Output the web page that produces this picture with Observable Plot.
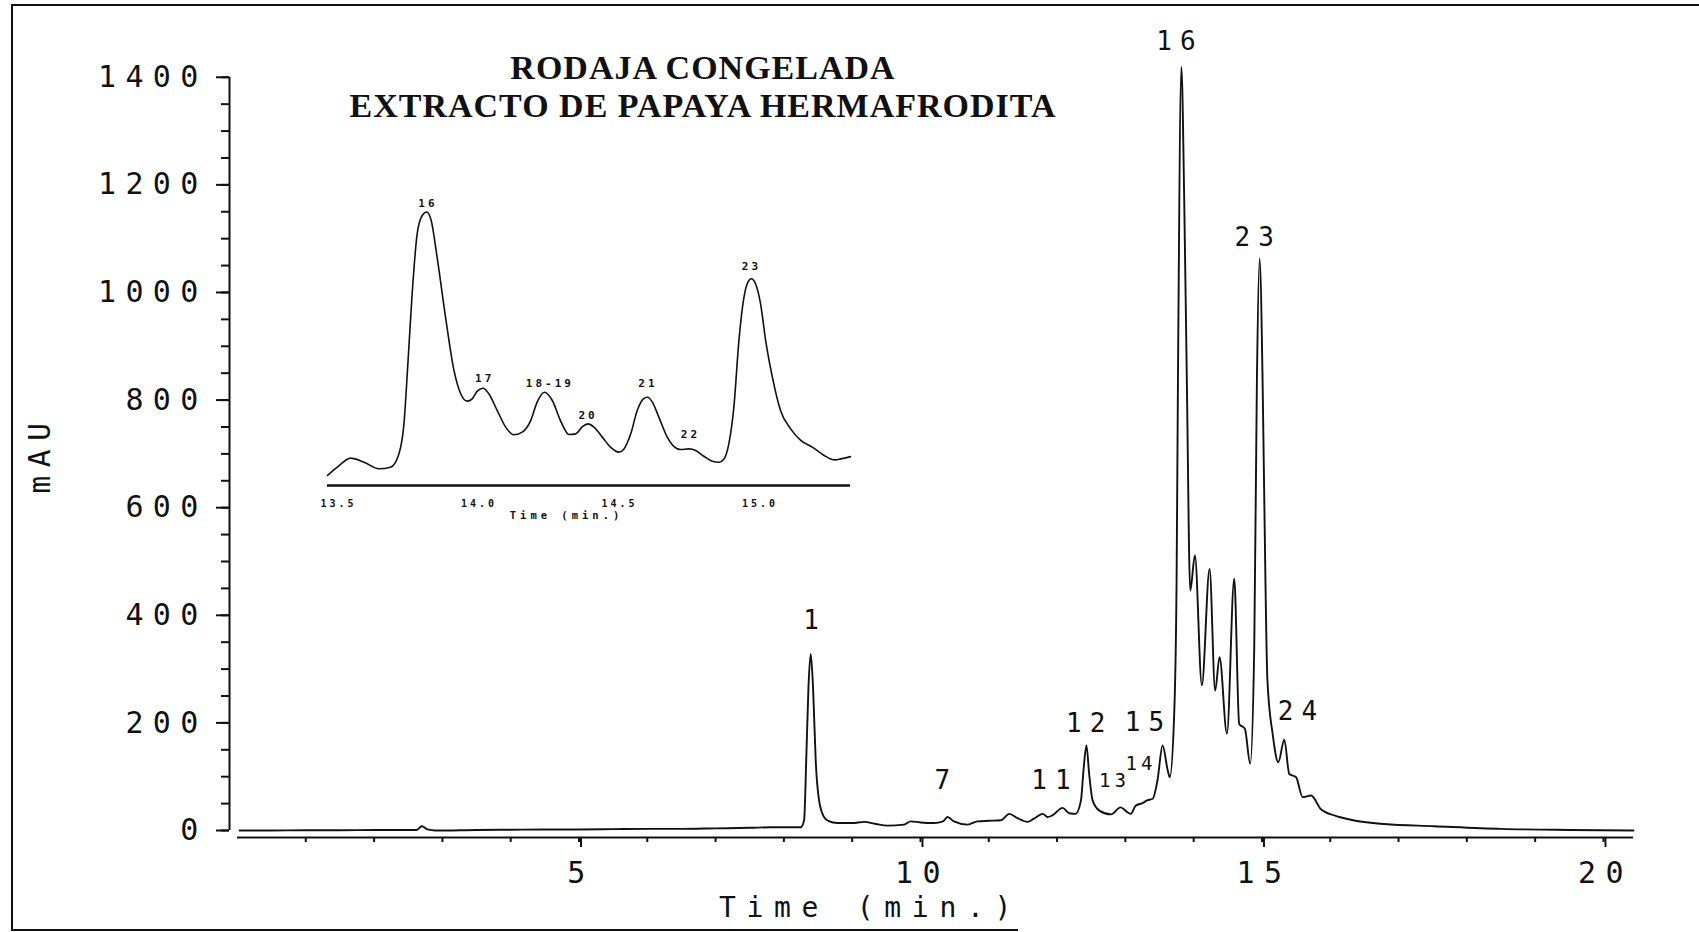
<!DOCTYPE html>
<html>
<head>
<meta charset="utf-8">
<script src="https://cdn.jsdelivr.net/npm/d3@7"></script>
<script src="https://cdn.jsdelivr.net/npm/@observablehq/plot@0.6"></script>
<style>
  html, body { margin: 0; padding: 0; background: #fff; overflow: hidden; }
  #page { position: relative; width: 1699px; height: 932px; overflow: hidden; background: #fff; }
  #main, #inset { position: absolute; }
  #main { left: 0; top: 0; }
  #inset { left: 300px; top: 180px; }
  .title { position: absolute; left: 703px; top: 49px; transform: translateX(-50%); white-space: nowrap;
           text-align: center; font-family: "Liberation Serif", "Times New Roman", serif; font-weight: bold;
           font-size: 34px; letter-spacing: 1px; line-height: 38px; color: #111; }
  .border { position: absolute; background: #111; }
  #main g[aria-label="y-axis tick label"] text,
  #main g[aria-label="x-axis tick label"] text { letter-spacing: 9.3px; }
  #main g[font-size="26"] text { letter-spacing: 8px; }
  #main g[font-size="19"] text { letter-spacing: 4px; }
  #main g[font-size="29.5"] text { letter-spacing: 8.5px; }
  #main g[font-size="28"] text { letter-spacing: 10.7px; }
  #inset g[aria-label="x-axis tick label"] text { letter-spacing: 3px; }
  #inset g[font-size="11"] text { letter-spacing: 3px; }
  #inset g[font-size="10.5"] text { letter-spacing: 4px; }
</style>
</head>
<body>
<div id="page">
  <div id="main"></div>
  <div id="inset"></div>
  <div class="title">RODAJA CONGELADA<br>EXTRACTO DE PAPAYA HERMAFRODITA</div>
  <div class="border" style="left:11px; top:4px; width:1688px; height:2px"></div>
  <div class="border" style="left:11px; top:4px; width:2px; height:926px"></div>
  <div class="border" style="left:11px; top:929px; width:1007px; height:2px"></div>
</div>
<script>
// ---------- Main chromatogram (time in min, absorbance in mAU) ----------
const mainTime = [0.03,0.5,1.0,1.5,2.0,2.5,2.62,2.70,2.78,2.9,3.5,4.0,4.5,5.0,5.5,6.0,6.5,7.0,7.5,7.81,
  8.247,8.296,8.33,8.36,8.393,8.427,8.466,8.515,8.588,8.65,8.783,9.0,9.174,9.35,9.516,9.76,9.858,10.0,10.2,
  10.33,10.395,10.49,10.69,10.835,11.0,11.177,11.30,11.42,11.57,11.66,11.79,11.86,11.93,12.08,12.18,12.27,
  12.35,12.387,12.43,12.47,12.52,12.62,12.79,12.93,13.03,13.08,13.15,13.25,13.32,13.40,13.47,13.545,13.62,
  13.65,13.715,13.75,13.77,13.82,13.862,13.90,13.95,14.018,14.12,14.233,14.315,14.379,14.487,14.594,14.667,
  14.75,14.828,14.887,14.926,14.965,15.009,15.03,15.08,15.156,15.24,15.327,15.40,15.50,15.595,15.72,15.86,
  16.06,16.30,16.79,17.52,18.50,19.5,20.44];
const mainAbs = [0,0,0.5,0.5,1,1,1,8,2,0,1,1.5,2,2,2.5,3,3,4,5,6,
  6,19,143,266,328,266,130,56,25,18,14,14,16,12,9,11,17,15,14,
  17,25,17,11,17,18,19,31,23,16,22,31,25,28,42,32,31,
  56,112,158,105,56,37,30,43,34,31,46,51,56,59,93,158,112,
  99,217,465,837,1419,1170,837,446,511,270,486,260,322,180,468,198,
  189,124,341,837,1063,837,651,279,180,127,169,105,99,62,65,40,
  28,20,12,8,3,1,0];

// peak labels (anchor time, anchor mAU)
const peakNames = ["1","7","11","12","15","16","23","24"];
const peakLabelTime = [8.40,10.32,11.91,12.42,13.28,13.74,14.887,15.52];
const peakLabelAbs = [390,93,93,198,201,1466,1102,220];
const smallPeakNames = ["13","14"];
const smallPeakTime = [12.81,13.20];
const smallPeakAbs = [93,124];

// axes
const xDomain = [0, 20.44];
const yDomain = [-13, 1420];
const xAxisLevel = -13;
const yAxisTop = 1400;
const yMajor = [0,200,400,600,800,1000,1200,1400];
const yMinor = d3.range(0, 1401, 50);
const xMajor = [5,10,15,20];
const xMinor = d3.range(1, 21, 1);

// ---------- Inset (13.5 – 15.3 min) ----------
const insetTime = [13.466,13.501,13.548,13.596,13.649,13.690,13.720,13.738,13.752,13.768,13.785,13.803,13.819,
  13.835,13.856,13.886,13.916,13.940,13.963,13.981,13.999,14.020,14.040,14.070,14.100,14.129,14.159,14.189,
  14.212,14.238,14.266,14.295,14.325,14.349,14.373,14.393,14.414,14.444,14.473,14.503,14.521,14.545,14.568,
  14.590,14.604,14.622,14.645,14.675,14.699,14.722,14.752,14.776,14.805,14.835,14.859,14.877,14.894,14.912,
  14.930,14.948,14.962,14.974,14.989,15.007,15.025,15.049,15.078,15.114,15.150,15.191,15.233,15.256,15.274,
  15.292,15.327];
const insetAbs = [52,95,142,121,87,95,164,320,631,1012,1306,1401,1419,
  1375,1185,874,597,476,438,450,490,505,476,389,303,263,277,337,
  433,484,441,337,265,268,306,320,303,251,199,173,190,268,389,
  450,458,433,355,251,202,187,190,182,152,126,121,138,216,407,
  753,977,1055,1073,1047,943,753,562,389,294,234,199,156,138,133,
  138,150];
const insetNames = ["16","17","18-19","20","21","22","23"];
const insetLabelTime = [13.818,14.020,14.252,14.388,14.601,14.752,14.969];
const insetLabelAbs = [1465,554,531,363,528,263,1137];
const insetDomainX = [13.466, 15.327];
const insetDomainY = [0, 1479];
const insetTicks = [13.5, 14.0, 14.5, 15.0];

// ---------- build tables ----------
const mainData = mainTime.map((t, i) => ({t, v: mainAbs[i]}));
const peakData = peakNames.map((n, i) => ({n, t: peakLabelTime[i], v: peakLabelAbs[i]}));
const smallPeakData = smallPeakNames.map((n, i) => ({n, t: smallPeakTime[i], v: smallPeakAbs[i]}));
const insetData = insetTime.map((t, i) => ({t, v: insetAbs[i]}));
const insetLabelData = insetNames.map((n, i) => ({n, t: insetLabelTime[i], v: insetLabelAbs[i]}));

const ink = "#111";
const mono = "DejaVu Sans Mono";

const main = Plot.plot({
  width: 1699, height: 932,
  marginLeft: 237, marginRight: 66, marginTop: 66, marginBottom: 95,
  style: {background: "transparent", fontFamily: mono, fontSize: "30px", color: ink, overflow: "visible"},
  x: {domain: xDomain, label: null},
  y: {domain: yDomain, label: null},
  marks: [
    Plot.ruleX([0], {y1: 0, y2: yAxisTop, dx: -8, stroke: ink, strokeWidth: 2}),
    Plot.axisY({ticks: yMinor, tickSize: 8, tickFormat: () => "", dx: -8, label: null, strokeWidth: 2, stroke: ink}),
    Plot.axisY({ticks: yMajor, tickSize: 13, tickPadding: 9, dx: -8, label: null, strokeWidth: 2, stroke: ink,
                tickFormat: d => String(d), fontSize: 30, fontFamily: mono, fill: ink}),
    Plot.ruleY([xAxisLevel], {x1: xDomain[0], x2: xDomain[1], stroke: ink, strokeWidth: 2}),
    Plot.axisX({ticks: xMinor, tickSize: 5, tickFormat: () => "", label: null, strokeWidth: 2, stroke: ink}),
    Plot.axisX({ticks: xMajor, tickSize: 10, tickPadding: 14, dx: 2, label: null, strokeWidth: 2, stroke: ink,
                tickFormat: d => String(d), fontSize: 30, fontFamily: mono, fill: ink}),
    Plot.line(mainData, {x: "t", y: "v", curve: "monotone-x", stroke: ink, strokeWidth: 1.9}),
    Plot.text(peakData, {x: "t", y: "v", text: "n", dx: 4, lineAnchor: "middle", fontSize: 26,
                         fontFamily: mono, fill: ink}),
    Plot.text(smallPeakData, {x: "t", y: "v", text: "n", dx: 2, lineAnchor: "middle", fontSize: 19,
                              fontFamily: mono, fill: ink}),
    Plot.text(["mAU"], {frameAnchor: "left", dx: -197, dy: 2, rotate: -90, textAnchor: "middle",
                        lineAnchor: "middle", fontSize: 29.5, fontFamily: mono, fill: ink}),
    Plot.text(["Time (min.)"], {frameAnchor: "bottom", dx: -65, dy: 71, textAnchor: "middle",
                                lineAnchor: "middle", fontSize: 28, fontFamily: mono, fill: ink})
  ]
});
document.getElementById("main").appendChild(main);

const inset = Plot.plot({
  width: 580, height: 350,
  marginLeft: 27, marginRight: 30, marginTop: 20, marginBottom: 45,
  style: {background: "transparent", fontFamily: mono, fontSize: "10px", color: ink, overflow: "visible"},
  x: {domain: insetDomainX, label: null},
  y: {domain: insetDomainY, label: null, axis: null},
  marks: [
    Plot.ruleY([0], {x1: insetDomainX[0], x2: insetDomainX[1], stroke: ink, strokeWidth: 2.6}),
    Plot.axisX({ticks: insetTicks, tickSize: 0, tickPadding: 14, dx: 1.5, label: null,
                tickFormat: d3.format(".1f"), fontSize: 10, fontWeight: "bold", fontFamily: mono, fill: ink}),
    Plot.line(insetData, {x: "t", y: "v", curve: "monotone-x", stroke: ink, strokeWidth: 1.6}),
    Plot.text(insetLabelData, {x: "t", y: "v", text: "n", dx: 1.5, lineAnchor: "middle", fontSize: 11,
                               fontWeight: "bold", fontFamily: mono, fill: ink}),
    Plot.text(["Time (min.)"], {frameAnchor: "bottom", dx: -22.5, dy: 30, textAnchor: "middle",
                                lineAnchor: "middle", fontSize: 10.5, fontWeight: "bold", fontFamily: mono, fill: ink})
  ]
});
document.getElementById("inset").appendChild(inset);
</script>
</body>
</html>
